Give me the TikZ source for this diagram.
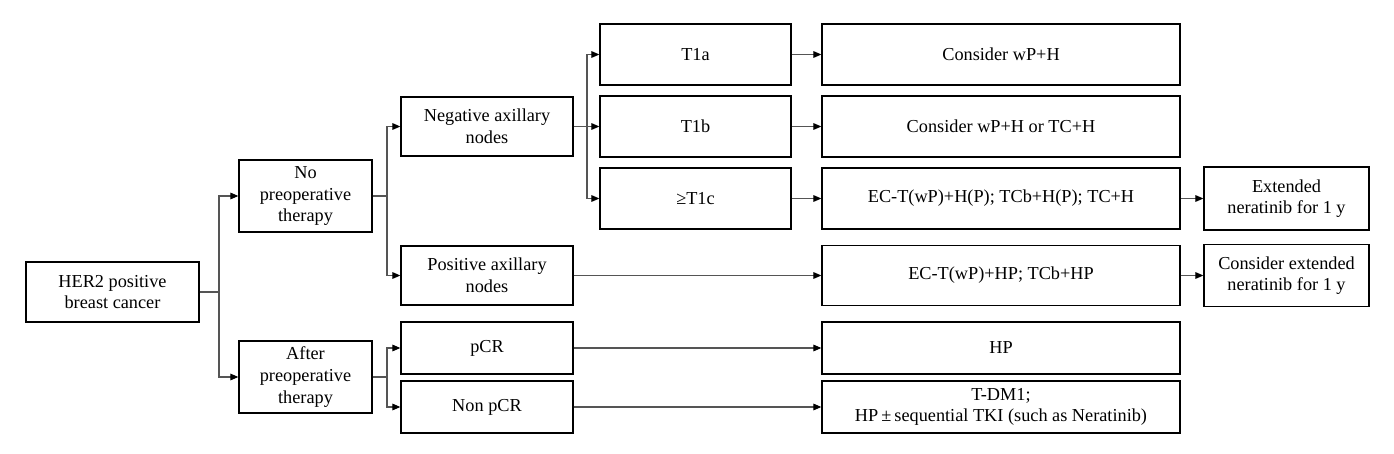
\documentclass[tikz,border=0pt]{standalone}
\usepackage{fontspec}
\setmainfont{Liberation Serif}
\usetikzlibrary{arrows.meta}
\definecolor{conn}{HTML}{555555}
\begin{document}
\begin{tikzpicture}[x=0.75pt,y=-0.75pt,
  box/.style n args={2}{draw=black,line width=1pt,fill=white,inner sep=1pt,align=center,
    minimum width=#1*0.75pt,minimum height=#2*0.75pt,
    font=\fontsize{13.7}{16.3}\selectfont},
  line/.style={draw=conn,line width=0.8pt},
  arr/.style={line,-{Triangle[length=6pt,width=5pt,color=black]}}]
\useasboundingbox (0,0) rectangle (1394,453);
% column 1
\node[box={173}{60}] (her) at (112.5,292) {HER2 positive\\breast cancer};
% column 2
\node[box={133}{72}] (nopre) at (305.5,196) {No\\preoperative\\therapy};
\node[box={133}{72}] (after) at (305.5,377) {After\\preoperative\\therapy};
% column 3
\node[box={172}{59}] (neg) at (487,126.5) {Negative axillary\\nodes};
\node[box={172}{59}] (pos) at (487,275.5) {Positive axillary\\nodes};
\node[box={172}{52}] (pcr) at (487,348) {pCR};
\node[box={172}{52}] (npcr) at (487,407) {Non pCR};
% column 4
\node[box={191}{61}] (t1a) at (695.5,54.5) {T1a};
\node[box={191}{61}] (t1b) at (695.5,126.5) {T1b};
\node[box={191}{61}] (t1c) at (695.5,198.5) {≥T1c};
% column 5
\node[box={358}{61}] (r1) at (1001,54.5) {Consider wP+H};
\node[box={358}{61}] (r2) at (1001,126.5) {Consider wP+H or TC+H};
\node[box={358}{61}] (r3) at (1001,198.5) {EC-T(wP)+H(P); TCb+H(P); TC+H};
\node[box={358}{60}] (r4) at (1001,275.5) {EC-T(wP)+HP; TCb+HP};
\node[box={358}{52}] (r5) at (1001,348) {HP};
\node[box={358}{52}] (r6) at (1001,407) {T-DM1;\\HP\,±\,sequential TKI (such as Neratinib)};
% column 6
\node[box={165}{63}] (e1) at (1286.5,198.5) {Extended\\neratinib for 1 y};
\node[box={165}{62}] (e2) at (1286.5,275.5) {Consider extended\\neratinib for 1 y};
% split points
\coordinate (s1) at (219,292);
\coordinate (s2) at (387,196);
\coordinate (s3) at (387,377);
\coordinate (s4) at (587,126.5);
% connectors
\draw[line] (her.east) -- (s1);
\draw[arr] (s1) |- (nopre.west);
\draw[arr] (s1) |- (after.west);
\draw[line] (nopre.east) -- (s2);
\draw[arr] (s2) |- (neg.west);
\draw[arr] (s2) |- (pos.west);
\draw[line] (after.east) -- (s3);
\draw[arr] (s3) |- (pcr.west);
\draw[arr] (s3) |- (npcr.west);
\draw[line] (neg.east) -- (s4);
\draw[arr] (s4) |- (t1a.west);
\draw[arr] (s4) -- (t1b.west);
\draw[arr] (s4) |- (t1c.west);
\draw[arr] (t1a.east) -- (r1.west);
\draw[arr] (t1b.east) -- (r2.west);
\draw[arr] (t1c.east) -- (r3.west);
\draw[arr] (pos.east) -- (r4.west);
\draw[arr] (pcr.east) -- (r5.west);
\draw[arr] (npcr.east) -- (r6.west);
\draw[arr] (r3.east) -- (e1.west);
\draw[arr] (r4.east) -- (e2.west);
\end{tikzpicture}
\end{document}
